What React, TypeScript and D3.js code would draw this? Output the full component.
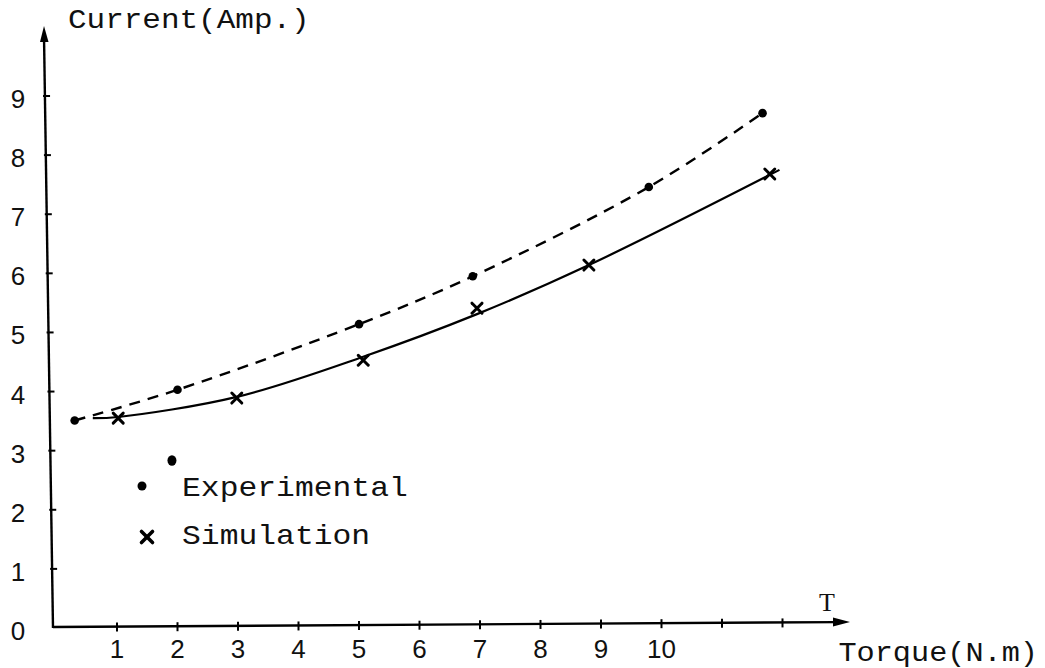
import React from "react";
import * as d3 from "d3";

// ---- data ----
const xTicks = [1, 2, 3, 4, 5, 6, 7, 8, 9, 10, 11, 12];
const xTickLabels = ["1", "2", "3", "4", "5", "6", "7", "8", "9", "10", "", ""];
const yTicks = [0, 1, 2, 3, 4, 5, 6, 7, 8, 9];
const yTickLabels = ["0", "1", "2", "3", "4", "5", "6", "7", "8", "9"];

const expTorque = [0.3, 2.0, 5.0, 6.88, 9.79, 11.67];
const expCurrent = [3.51, 4.03, 5.14, 5.95, 7.46, 8.71];

const simTorque = [1.02, 2.98, 5.07, 6.95, 8.8, 11.79];
const simCurrent = [3.55, 3.89, 4.53, 5.41, 6.14, 7.68];

// fitted (solid) curve for the simulation
const simFitTorque = [0.6, 1.02, 2.98, 5.07, 6.95, 8.8, 11.95];
const simFitCurrent = [3.55, 3.57, 3.91, 4.59, 5.31, 6.14, 7.75];

// stray mark in the scan near the legend
const strayTorque = [1.9];
const strayCurrent = [2.8];

const yTitle = "Current(Amp.)";
const xTitle = "Torque(N.m)";
const xSymbol = "T";
const legendLabels = ["Experimental", "Simulation"];

const W = 1045;
const H = 668;

export default function App() {
  const x = d3.scaleLinear().domain([0, 12]).range([56.5, 782.5]);
  const y = d3.scaleLinear().domain([0, 9]).range([628, 96]);

  // slightly slanted hand-drawn axes
  const axBottomX = 53;
  const axTopX = 44;
  const axTopY = 26;
  const yAxisX = (py: number) => axBottomX - ((axBottomX - axTopX) * (628 - py)) / (628 - axTopY);
  const xAxisEnd = 850;
  const xAxisY = (px: number) => 627 - (5 * (px - axBottomX)) / (xAxisEnd - axBottomX);

  const expPts: [number, number][] = expTorque.map((t, i) => [x(t), y(expCurrent[i])]);
  const simPts: [number, number][] = simTorque.map((t, i) => [x(t), y(simCurrent[i])]);
  const fitPts: [number, number][] = simFitTorque.map((t, i) => [x(t), y(simFitCurrent[i])]);

  const line = d3.line().curve(d3.curveCatmullRom.alpha(0.5));

  const mono = "'Liberation Mono', 'DejaVu Sans Mono', monospace";
  const sans = "'Liberation Sans', Arial, sans-serif";

  const xMark = (cx: number, cy: number, s: number, sw: number, key: string) => (
    <g key={key} stroke="#000" strokeWidth={sw} strokeLinecap="round">
      <line x1={cx - s} y1={cy - s} x2={cx + s} y2={cy + s} />
      <line x1={cx - s} y1={cy + s} x2={cx + s} y2={cy - s} />
    </g>
  );

  // monospaced typewriter-like text, widened horizontally
  const monoText = (
    txt: string,
    tx: number,
    ty: number,
    size: number,
    sx: number,
    key: string,
    anchor: "start" | "end" = "start"
  ) => (
    <text
      key={key}
      x={0}
      y={0}
      transform={`translate(${tx},${ty}) scale(${sx},1)`}
      fontFamily={mono}
      fontSize={size}
      textAnchor={anchor}
      fill="#111"
    >
      {txt}
    </text>
  );

  return (
    <svg
      width={W}
      height={H}
      style={{ position: "absolute", left: 0, top: 0, background: "#fff" }}
    >
      <rect x={0} y={0} width={W} height={H} fill="#fff" />

      {/* y axis */}
      <line x1={axBottomX} y1={628} x2={axTopX} y2={axTopY + 10} stroke="#000" strokeWidth={2.4} />
      <path
        d={`M${axTopX},${axTopY} L${axTopX - 4},${axTopY + 16} L${axTopX + 4.5},${axTopY + 16} Z`}
        fill="#000"
      />
      {yTicks.slice(1).map((v) => {
        const py = y(v);
        const ax = yAxisX(py);
        return <line key={"yt" + v} x1={ax - 2} y1={py} x2={ax + 5} y2={py} stroke="#000" strokeWidth={2} />;
      })}
      {yTicks.map((v, i) => (
        <text
          key={"yl" + v}
          x={18}
          y={y(v) + 3}
          textAnchor="middle"
          dominantBaseline="central"
          fontFamily={sans}
          fontSize={26}
          fill="#111"
        >
          {yTickLabels[i]}
        </text>
      ))}

      {/* x axis */}
      <line x1={axBottomX} y1={xAxisY(axBottomX)} x2={xAxisEnd - 12} y2={xAxisY(xAxisEnd - 12)} stroke="#000" strokeWidth={2.4} />
      <path
        d={`M${xAxisEnd},${xAxisY(xAxisEnd)} L${xAxisEnd - 17},${xAxisY(xAxisEnd) - 4.5} L${xAxisEnd - 17},${xAxisY(xAxisEnd) + 4.5} Z`}
        fill="#000"
      />
      {xTicks.map((v) => {
        const px = x(v);
        const ay = xAxisY(px);
        return <line key={"xt" + v} x1={px} y1={ay - 4} x2={px} y2={ay + 5} stroke="#000" strokeWidth={2} />;
      })}
      {xTicks.map((v, i) => (
        <text
          key={"xl" + v}
          x={x(v)}
          y={649}
          textAnchor="middle"
          dominantBaseline="central"
          fontFamily={sans}
          fontSize={26}
          fill="#111"
        >
          {xTickLabels[i]}
        </text>
      ))}

      {/* titles */}
      {monoText(yTitle, 68, 28, 27, 1.148, "yt")}
      {monoText(xTitle, 1038, 661, 27, 1.12, "xt", "end")}
      <text x={827} y={611} textAnchor="middle" fontFamily="'Liberation Serif', serif" fontSize={26} fill="#111">
        {xSymbol}
      </text>

      {/* curves */}
      <path d={line(expPts) || ""} fill="none" stroke="#000" strokeWidth={2.4} strokeDasharray="11 8" />
      <path d={line(fitPts) || ""} fill="none" stroke="#000" strokeWidth={2.2} />

      {/* markers */}
      {expPts.map(([cx, cy], i) => (
        <circle key={"e" + i} cx={cx} cy={cy} r={4.3} fill="#000" />
      ))}
      {simPts.map(([cx, cy], i) => xMark(cx, cy, 5, 3, "s" + i))}
      {strayTorque.map((t, i) => (
        <ellipse key={"st" + i} cx={x(t) + 0.5} cy={y(strayCurrent[i]) - 2} rx={4.5} ry={5.2} fill="#000" />
      ))}

      {/* legend */}
      <circle cx={142} cy={486} r={4.5} fill="#000" />
      {monoText(legendLabels[0], 182, 496, 28, 1.12, "l0")}
      {xMark(147, 537, 5.5, 3.6, "legx")}
      {monoText(legendLabels[1], 182, 544, 28, 1.12, "l1")}
    </svg>
  );
}
